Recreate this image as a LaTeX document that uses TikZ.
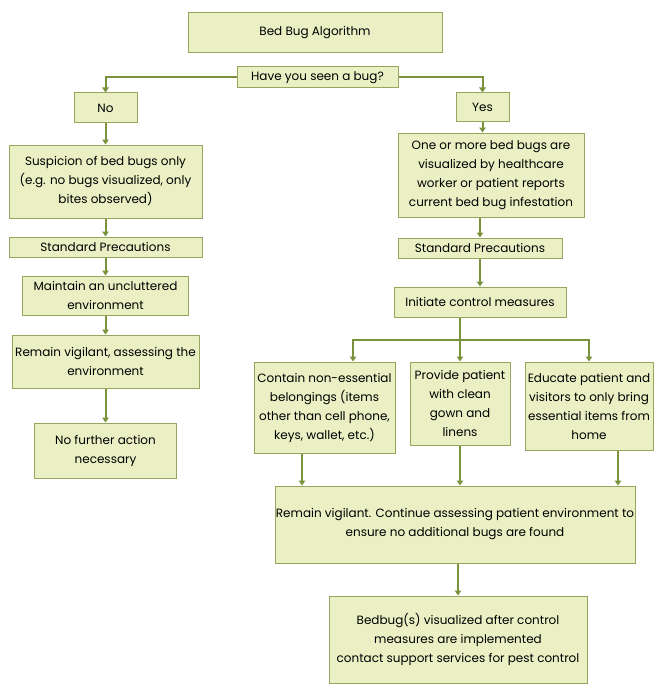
\documentclass[tikz,border=0pt]{standalone}
\usepackage{fontspec}
\setmainfont{Poppins}
\usetikzlibrary{arrows.meta,positioning}
\definecolor{bbfill}{RGB}{235,240,196}
\definecolor{bbedge}{RGB}{150,166,92}
\definecolor{bbarrow}{RGB}{122,146,60}

\begin{document}
\begin{tikzpicture}[x=1pt, y=-1pt,
  bugbox/.style={draw=bbedge, fill=bbfill, line width=1pt, align=center,
    inner sep=0pt, font=\fontsize{12}{19}\selectfont},
  sz/.style 2 args={minimum width=#1pt, minimum height=#2pt},
  link/.style={draw=bbarrow, line width=2pt},
  arr/.style={link, -{Triangle[length=5pt,width=6.5pt]}}]
\useasboundingbox (0,0) rectangle (662,690);
% Nodes
\node[bugbox, sz={254}{40}] (title) at (315,33) {Bed Bug Algorithm};
\node[bugbox, sz={161}{21}] (seen) at (317.5,77.5) {Have you seen a bug?};
\node[bugbox, sz={63}{30}] (no) at (105.5,108) {No};
\node[bugbox, sz={53}{29}] (yes) at (482.5,107.5) {Yes};
% left column
\node[bugbox, sz={193}{73}] (suspect) at (105.5,181.5) {Suspicion of bed bugs only\\(e.g. no bugs visualized, only\\bites observed)};
\node[bugbox, sz={193}{20}] (stdl) at (105.5,247) {Standard Precautions};
\node[bugbox, sz={166}{39}] (clutter) at (105.5,295.5) {Maintain an uncluttered\\environment};
\node[bugbox, sz={187}{53}] (vigill) at (105.5,361.5) {Remain vigilant, assessing the\\environment};
\node[bugbox, sz={142}{55}] (noact) at (105.5,450.5) {No further action\\necessary};
% right column
\node[bugbox, sz={186}{84}] (seenbug) at (491,175) {One or more bed bugs are\\visualized by healthcare\\worker or patient reports\\current bed bug infestation};
\node[bugbox, sz={164}{20}] (stdr) at (480,248) {Standard Precautions};
\node[bugbox, sz={172}{30}] (control) at (480,302) {Initiate control measures};
\node[bugbox, sz={141}{91}] (contain) at (324.5,407.5) {Contain non-essential\\belongings (items\\other than cell phone,\\keys, wallet, etc.)};
\node[bugbox, sz={100}{83}] (gown) at (460,403.5) {Provide patient\\with clean\\gown and\\linens};
\node[bugbox, sz={128}{88}] (educate) at (589,406) {Educate patient and\\visitors to only bring\\essential items from\\home};
\node[bugbox, sz={360}{77}] (vigilr) at (455,524.5) {Remain vigilant. Continue assessing patient environment to\\ensure no additional bugs are found};
\node[bugbox, sz={258}{87}] (pest) at (458,639.5) {Bedbug(s) visualized after control\\measures are implemented\\contact support services for pest control};
% Arrows
\draw[arr] (seen.west) -| (no.north);
\draw[arr] (seen.east) -| (yes.north);
\draw[arr] (no) -- (suspect);
\draw[arr] (suspect) -- (stdl);
\draw[arr] (stdl) -- (clutter);
\draw[arr] (clutter) -- (vigill);
\draw[arr] (vigill) -- (noact);
\draw[arr] (yes.south) -- (yes.south |- seenbug.north);
\draw[arr] (stdr.north |- seenbug.south) -- (stdr.north);
\draw[arr] (stdr) -- (control);
% fork to the three measures
\coordinate (fork) at (460,340);
\draw[link] (control.south -| fork) -- (fork);
\draw[arr] (fork) -| ([xshift=28.5pt]contain.north);
\draw[arr] (fork) -- (gown.north);
\draw[arr] (fork) -| (educate.north);
% join
\draw[arr] ([xshift=-22.5pt]contain.south) -- ([xshift=-22.5pt]contain.south |- vigilr.north);
\draw[arr] (gown.south) -- (gown.south |- vigilr.north);
\draw[arr] ([xshift=29pt]educate.south) -- ([xshift=29pt]educate.south |- vigilr.north);
\draw[arr] (pest.north |- vigilr.south) -- (pest.north);
\end{tikzpicture}
\end{document}
